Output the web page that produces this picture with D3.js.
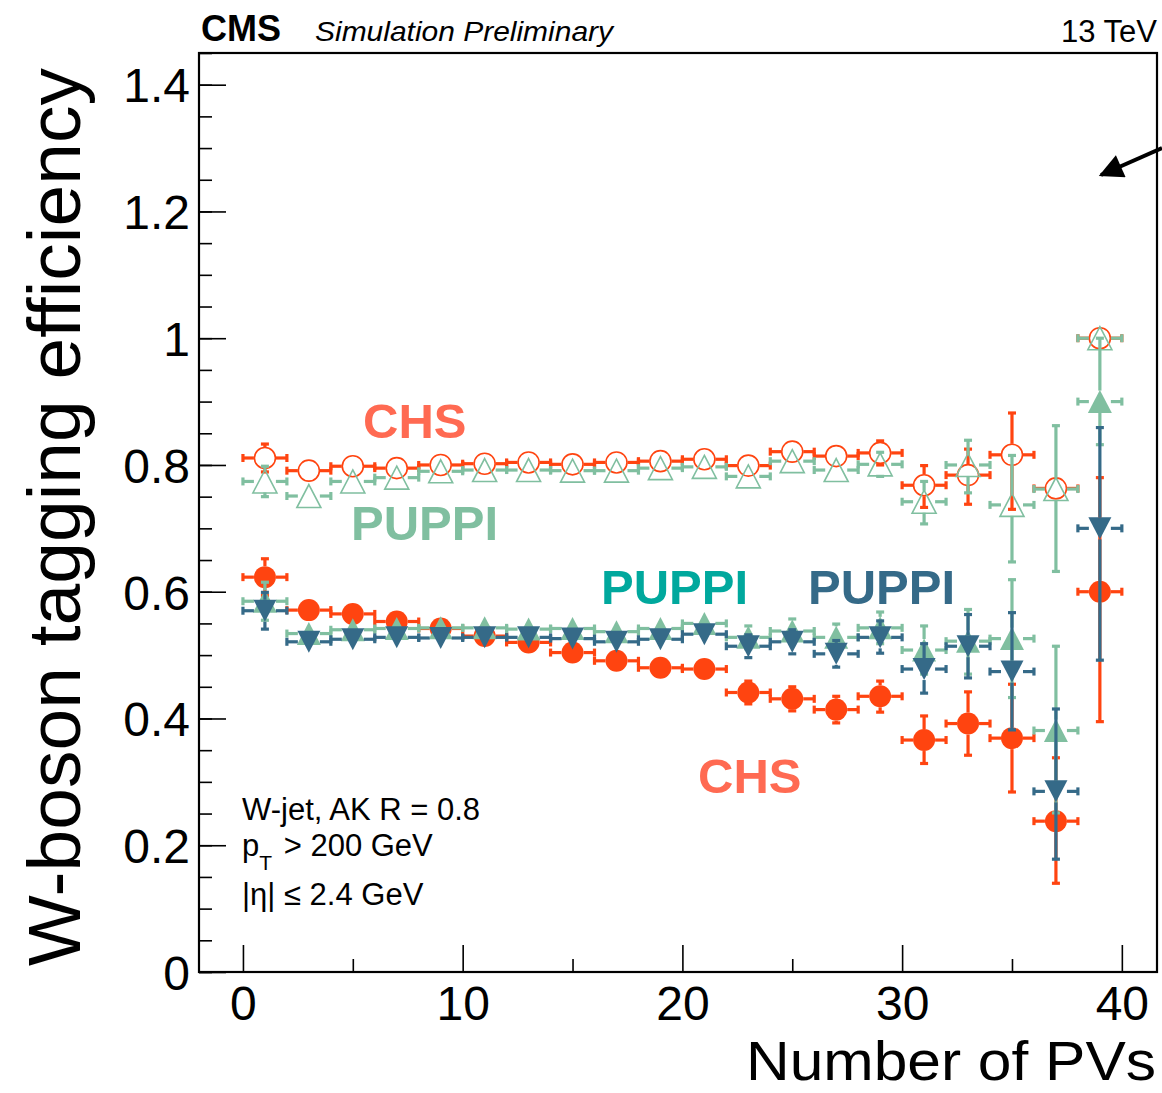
<!DOCTYPE html>
<html><head><meta charset="utf-8">
<script src="https://cdn.jsdelivr.net/npm/d3@7"></script>
<style>
body{margin:0;background:#fff}
svg{display:block}
text{font-family:"Liberation Sans",Arial,Helvetica,sans-serif}
</style>
</head><body>
<svg id="c" width="1162" height="1093"></svg>
<script>
// ---------- data ----------
const pvBins = [1,3,5,7,9,11,13,15,17,19,21,23,25,27,29,31,33,35,37,39];
const binHalfWidth = 1;

const chsOpen      = [0.811,0.791,0.798,0.795,0.800,0.802,0.804,0.801,0.804,0.806,0.809,0.799,0.821,0.814,0.819,0.768,0.784,0.816,0.763,1.000];
const chsOpenHi    = [0.022,0.012,0.011,0.010,0.010,0.010,0.010,0.011,0.011,0.012,0.012,0.013,0.014,0.015,0.019,0.031,0.041,0.066,0.000,0.000];
const chsOpenLo    = [0.022,0.012,0.011,0.010,0.010,0.010,0.010,0.011,0.011,0.012,0.012,0.013,0.014,0.015,0.019,0.035,0.046,0.086,0.000,0.000];

const puppiOpen    = [0.774,0.751,0.774,0.780,0.790,0.792,0.792,0.791,0.791,0.795,0.797,0.782,0.806,0.792,0.801,0.742,0.800,0.737,0.762,1.000];
const puppiOpenHi  = [0.024,0.012,0.011,0.010,0.010,0.010,0.010,0.011,0.011,0.012,0.012,0.013,0.014,0.015,0.019,0.032,0.039,0.078,0.100,0.000];
const puppiOpenLo  = [0.024,0.012,0.011,0.010,0.010,0.010,0.010,0.011,0.011,0.012,0.012,0.013,0.014,0.015,0.019,0.035,0.044,0.090,0.130,0.000];

const chsFilled    = [0.623,0.571,0.565,0.553,0.542,0.530,0.520,0.504,0.491,0.480,0.478,0.441,0.431,0.414,0.435,0.366,0.392,0.369,0.238,0.600];
const chsFilledHi  = [0.029,0.013,0.013,0.013,0.013,0.014,0.014,0.015,0.015,0.016,0.017,0.018,0.019,0.021,0.024,0.038,0.050,0.085,0.100,0.180];
const chsFilledLo  = [0.029,0.013,0.013,0.013,0.013,0.014,0.014,0.015,0.015,0.016,0.017,0.018,0.019,0.021,0.025,0.037,0.050,0.085,0.098,0.205];

const puppiFilled  = [0.585,0.534,0.540,0.542,0.543,0.543,0.541,0.542,0.537,0.542,0.550,0.528,0.538,0.528,0.543,0.508,0.522,0.526,0.381,0.900];
const puppiFilledHi= [0.030,0.013,0.013,0.013,0.013,0.014,0.014,0.015,0.015,0.016,0.017,0.018,0.019,0.021,0.025,0.038,0.050,0.093,0.133,0.100];
const puppiFilledLo= [0.030,0.013,0.013,0.013,0.013,0.014,0.014,0.015,0.015,0.016,0.017,0.018,0.019,0.021,0.025,0.038,0.052,0.093,0.130,0.068];

const puppiDown    = [0.570,0.521,0.525,0.528,0.527,0.528,0.528,0.526,0.521,0.525,0.533,0.514,0.521,0.502,0.528,0.478,0.514,0.474,0.285,0.700];
const puppiDownHi  = [0.029,0.013,0.013,0.013,0.013,0.014,0.014,0.015,0.015,0.016,0.017,0.018,0.019,0.021,0.026,0.040,0.050,0.093,0.130,0.159];
const puppiDownLo  = [0.029,0.013,0.013,0.013,0.013,0.014,0.014,0.015,0.015,0.016,0.017,0.018,0.019,0.021,0.025,0.038,0.050,0.092,0.107,0.208];

const xMajorTicks = [0,10,20,30,40];
const xMinorTicks = [5,15,25,35];
const yMajorTicks = [0,0.2,0.4,0.6,0.8,1,1.2,1.4];
const yTickLabels = ["0","0.2","0.4","0.6","0.8","1","1.2","1.4"];
const yMinorTicks = d3.range(0,1.451,0.05);

// ---------- colours ----------
const cOrange = "#ff4410";
const cGreen  = "#80bfa0";
const cBlue   = "#356a88";
const cLabelCHS = "#ff6a52";
const cTeal  = "#00a89d";

// ---------- layout ----------
const svg = d3.select("#c");
const L = 199, R = 1157, T = 53, B = 972;
const x = d3.scaleLinear().domain([-2, 41.6]).range([L, R]);
const y = d3.scaleLinear().domain([0, 1.45]).range([B, T]);

// axes ticks (inward)
const gx = svg.append("g").attr("transform", `translate(0,${B})`);
gx.call(d3.axisBottom(x).tickValues(xMajorTicks).tickSize(-27).tickPadding(14).tickFormat(d3.format("d")));
const gxm = svg.append("g").attr("transform", `translate(0,${B})`);
gxm.call(d3.axisBottom(x).tickValues(xMinorTicks).tickSize(-13).tickFormat(""));
const gy = svg.append("g").attr("transform", `translate(${L},0)`);
gy.call(d3.axisLeft(y).tickValues(yMajorTicks).tickSize(-27).tickPadding(9).tickFormat((d,i)=>yTickLabels[i]));
const gym = svg.append("g").attr("transform", `translate(${L},0)`);
gym.call(d3.axisLeft(y).tickValues(yMinorTicks).tickSize(-13).tickFormat(""));
[gx,gxm,gy,gym].forEach(g=>{
  g.select(".domain").remove();
  g.selectAll(".tick line").attr("stroke","#000").attr("stroke-width",1.6);
  g.selectAll("text").attr("fill","#000").style("font-size","48px").style("font-family","'Liberation Sans',Arial,sans-serif");
});
gx.selectAll("text").attr("dy","0.71em");
gy.selectAll("text").attr("dy","0.36em");

// frame
svg.append("rect").attr("x",L).attr("y",T).attr("width",R-L).attr("height",B-T)
  .attr("fill","none").attr("stroke","#000").attr("stroke-width",2.2);

// ---------- series drawing ----------
const plot = svg.append("g");
const rM = 11;
function drawSeries(vals, hi, lo, color, shape, filled){
  const g = plot.append("g");
  pvBins.forEach((b,i)=>{
    const cx = x(b), cy = y(vals[i]);
    const x0 = x(b - binHalfWidth), x1 = x(b + binHalfWidth);
    const eg = g.append("g").attr("stroke", color).attr("stroke-width", 3.2).attr("fill","none");
    eg.append("line").attr("x1",x0).attr("x2",cx-rM).attr("y1",cy).attr("y2",cy);
    eg.append("line").attr("x1",cx+rM).attr("x2",x1).attr("y1",cy).attr("y2",cy);
    eg.append("line").attr("x1",x0).attr("x2",x0).attr("y1",cy-4).attr("y2",cy+4);
    eg.append("line").attr("x1",x1).attr("x2",x1).attr("y1",cy-4).attr("y2",cy+4);
    const yh = y(vals[i]+hi[i]), yl = y(vals[i]-lo[i]);
    if (cy - yh > rM){
      eg.append("line").attr("x1",cx).attr("x2",cx).attr("y1",cy-rM).attr("y2",yh);
      eg.append("line").attr("x1",cx-4).attr("x2",cx+4).attr("y1",yh).attr("y2",yh);
    }
    if (yl - cy > rM){
      eg.append("line").attr("x1",cx).attr("x2",cx).attr("y1",cy+rM).attr("y2",yl);
      eg.append("line").attr("x1",cx-4).attr("x2",cx+4).attr("y1",yl).attr("y2",yl);
    }
    let m;
    if (shape === "circle"){
      m = g.append("circle").attr("cx",cx).attr("cy",cy).attr("r", filled ? 11 : 10.5);
    } else if (shape === "up"){
      m = g.append("path").attr("d", `M${cx},${cy-11.5}L${cx+12},${cy+11.5}L${cx-12},${cy+11.5}Z`);
    } else {
      m = g.append("path").attr("d", `M${cx-11.5},${cy-11}L${cx+11.5},${cy-11}L${cx},${cy+11}Z`);
    }
    if (filled) m.attr("fill", color).attr("stroke","none");
    else m.attr("fill","none").attr("stroke", color).attr("stroke-width",1.6);
  });
}
drawSeries(chsOpen, chsOpenHi, chsOpenLo, cOrange, "circle", false);
drawSeries(puppiOpen, puppiOpenHi, puppiOpenLo, cGreen, "up", false);
drawSeries(chsFilled, chsFilledHi, chsFilledLo, cOrange, "circle", true);
drawSeries(puppiFilled, puppiFilledHi, puppiFilledLo, cGreen, "up", true);
drawSeries(puppiDown, puppiDownHi, puppiDownLo, cBlue, "down", true);

// ---------- labels ----------
function lab(t, xx, yy, size, color, weight, anchor, style){
  return svg.append("text").attr("x",xx).attr("y",yy).text(t)
    .style("font-size",size+"px").attr("fill",color)
    .style("font-weight",weight||"normal").attr("text-anchor",anchor||"start")
    .style("font-style",style||"normal");
}
lab("CMS", 201, 41, 36, "#000", "bold");
lab("Simulation Preliminary", 315, 41, 28, "#000", "normal", "start", "italic")
  .attr("textLength",298).attr("lengthAdjust","spacingAndGlyphs");
lab("13 TeV", 1157, 42, 31, "#000", "normal", "end");

svg.append("text").attr("transform","translate(80,517) rotate(-90)")
  .attr("text-anchor","middle").style("font-size","75px").attr("fill","#000")
  .text("W-boson tagging efficiency");
lab("Number of PVs", 746, 1080, 56, "#000", "normal", "start")
  .attr("textLength",410).attr("lengthAdjust","spacingAndGlyphs");

lab("CHS", 363, 438, 49, cLabelCHS, "bold");
lab("PUPPI", 351, 540, 49, cGreen, "bold");
lab("PUPPI", 601, 604, 49, cTeal, "bold");
lab("PUPPI", 808, 604, 49, cBlue, "bold");
lab("CHS", 698, 793, 49, cLabelCHS, "bold");

lab("W-jet, AK R = 0.8", 242, 820, 31, "#000");
const pt = svg.append("text").attr("x",242).attr("y",856).style("font-size","31px").attr("fill","#000");
pt.append("tspan").text("p");
pt.append("tspan").attr("dy",14).style("font-size","21px").text("T");
pt.append("tspan").attr("dy",-14).attr("dx",3).text(" > 200 GeV");
lab("|\u03B7| \u2264 2.4 GeV", 242, 905, 31, "#000");

// arrow
svg.append("defs").append("marker").attr("id","ah").attr("viewBox","0 0 10 10")
  .attr("refX",9).attr("refY",5).attr("markerWidth",7).attr("markerHeight",6)
  .attr("markerUnits","strokeWidth").attr("orient","auto")
  .append("path").attr("d","M0,0L10,5L0,10Z").attr("fill","#000");
svg.append("line").attr("x1",1162).attr("y1",148).attr("x2",1101).attr("y2",175)
  .attr("stroke","#000").attr("stroke-width",4).attr("marker-end","url(#ah)");
</script>
</body></html>
